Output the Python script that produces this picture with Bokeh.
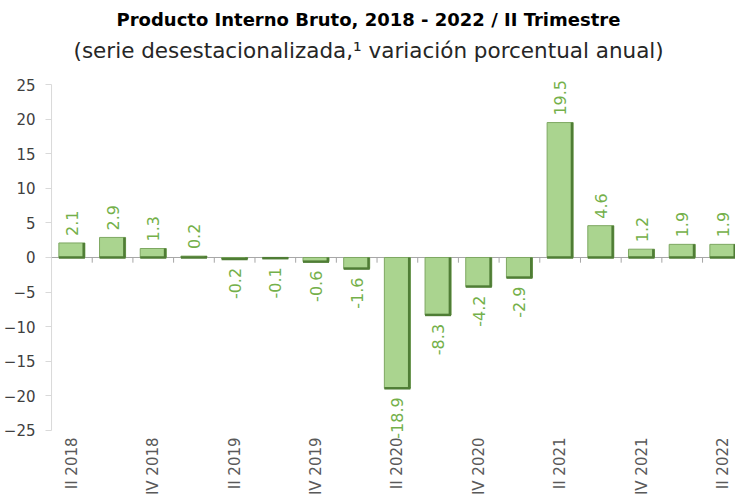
import math
from bokeh.plotting import figure
from bokeh.models import Range1d, FixedTicker, Title, ColumnDataSource, Span, LabelSet
from bokeh.core.properties import value
from bokeh.embed import file_html
from bokeh.resources import INLINE

# ---- data ----
quarters = ["II 2018", "III 2018", "IV 2018", "I 2019", "II 2019", "III 2019",
            "IV 2019", "I 2020", "II 2020", "III 2020", "IV 2020", "I 2021",
            "II 2021", "III 2021", "IV 2021", "I 2022", "II 2022"]
growth = [2.1, 2.9, 1.3, 0.2, -0.2, -0.1, -0.6, -1.6, -18.9, -8.3, -4.2, -2.9,
          19.5, 4.6, 1.2, 1.9, 1.9]
y_ticks = [-25, -20, -15, -10, -5, 0, 5, 10, 15, 20, 25]
title_text = "Producto Interno Bruto, 2018 - 2022 / II Trimestre"
subtitle_text = "(serie desestacionalizada,\u00b9 variación porcentual anual)"

# ---- derived ----
n = len(quarters)
xc = [i + 0.5 for i in range(n)]
bw = 0.64
px = 1 / 40.75  # one pixel in x data units (style only)
y_lo, y_hi = y_ticks[0], y_ticks[-1]

src = ColumnDataSource(dict(
    x=xc, v=growth,
    bottom=[min(0, g) for g in growth],
    top=[max(0, g) for g in growth],
    rx=[c + bw / 2 - 1.2 * px for c in xc],
    lx=[c - bw / 2 for c in xc],
    rxe=[c + bw / 2 for c in xc],
))
pos = ColumnDataSource(dict(x=[xc[i] for i in range(n) if growth[i] >= 0],
                            y=[growth[i] for i in range(n) if growth[i] >= 0],
                            t=[f"{growth[i]:.1f}" for i in range(n) if growth[i] >= 0]))
neg = ColumnDataSource(dict(x=[xc[i] for i in range(n) if growth[i] < 0],
                            y=[growth[i] for i in range(n) if growth[i] < 0],
                            t=[f"{growth[i]:.1f}" for i in range(n) if growth[i] < 0]))
cat = ColumnDataSource(dict(x=[xc[i] for i in range(0, n, 2)],
                            y=[y_lo] * len(range(0, n, 2)),
                            t=[quarters[i] for i in range(0, n, 2)]))

p = figure(width=735, height=494, output_backend="svg", toolbar_location=None,
           x_range=Range1d(-0.05, 16.81), y_range=Range1d(-34.25, 28.18),
           min_border_left=48, min_border_right=0, min_border_top=62,
           min_border_bottom=0)
p.title.text = ""
p.outline_line_color = None
p.background_fill_color = "white"
p.border_fill_color = "white"
p.xgrid.visible = False
p.ygrid.visible = False
p.xaxis.visible = False

# y axis line (only between -25 and 25)
p.segment(x0=[0], x1=[0], y0=[y_lo], y1=[y_hi], line_color="#d9d9d9", line_width=1)
# zero line
p.segment(x0=[0], x1=[n], y0=[0], y1=[0], line_color="#a6a6a6", line_width=1)
# category boundary ticks on the zero line
p.segment(x0=list(range(1, n)), x1=list(range(1, n)), y0=[0] * (n - 1),
          y1=[-0.75] * (n - 1), line_color="#a6a6a6", line_width=1)

# bars
p.vbar(x="x", width=bw, top="top", bottom="bottom", source=src,
       fill_color="#aad48f", line_color="#7ea862", line_width=1)
# bevel: dark right and bottom edges
p.segment(x0="rx", x1="rx", y0="bottom", y1="top", source=src,
          line_color="#4f7d35", line_width=2.5)
p.segment(x0="lx", x1="rxe", y0="bottom", y1="bottom", source=src,
          line_color="#4f7d35", line_width=2.5)

# value labels
p.add_layout(LabelSet(x="x", y="y", text="t", source=pos, angle=math.pi / 2,
                      text_align="left", text_baseline="middle", y_offset=7,
                      text_color="#74b04a", text_font_size="16px",
                      text_font=value("DejaVu Sans")))
p.add_layout(LabelSet(x="x", y="y", text="t", source=neg, angle=math.pi / 2,
                      text_align="right", text_baseline="middle", y_offset=-9,
                      text_color="#74b04a", text_font_size="16px",
                      text_font=value("DejaVu Sans")))

# category labels below the -25 line
p.text(x="x", y="y", text="t", source=cat, angle=math.pi / 2,
       text_align="right", text_baseline="middle", y_offset=7,
       text_color="#595959", text_font_size="15px", text_font=value("DejaVu Sans"))

# y axis
ya = p.yaxis[0]
ya.ticker = FixedTicker(ticks=y_ticks)
ya.axis_line_color = None
ya.major_tick_line_color = "#d9d9d9"
ya.major_tick_out = 4
ya.major_tick_in = 2
ya.minor_tick_line_color = None
ya.major_label_standoff = 10
ya.major_label_text_font = "DejaVu Sans"
ya.major_label_text_font_size = "15px"
ya.major_label_text_color = "#404040"

# titles (stacked upward from the frame: subtitle, then title)
sub = Title(text=subtitle_text, align="left", offset=24, text_font="DejaVu Sans",
            text_font_size="21.5px", text_font_style="normal", text_color="#262626",
            standoff=0)
p.add_layout(sub, "above")
main = Title(text=title_text, align="left", offset=67, text_font="DejaVu Sans",
             text_font_size="18px", text_font_style="bold", text_color="#000000",
             standoff=11)
p.add_layout(main, "above")

open("out.html", "w").write(file_html(p, INLINE))
